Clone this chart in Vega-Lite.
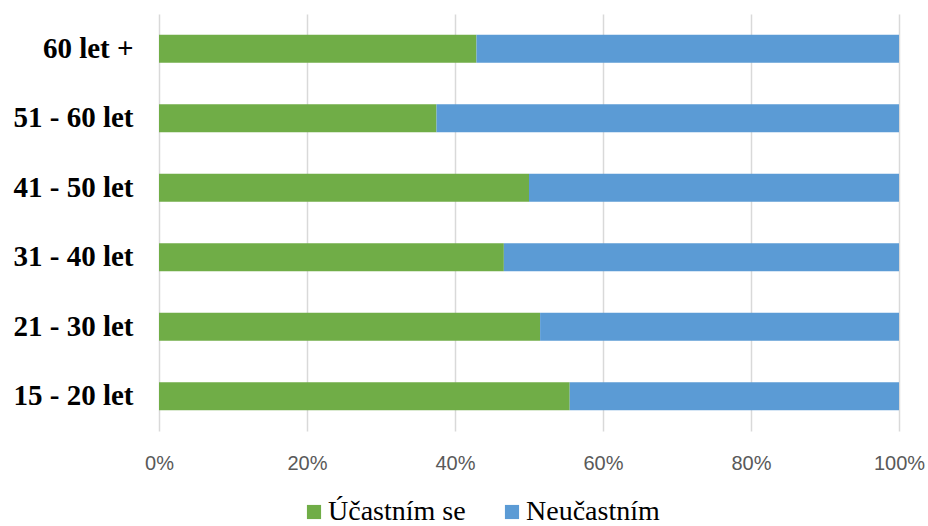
{
  "$schema": "https://vega.github.io/schema/vega-lite/v6.json",
  "width": 740,
  "height": 417,
  "autosize": "none",
  "padding": {"left": 159, "top": 14, "right": 29, "bottom": 95},
  "background": "white",
  "config": {"view": {"stroke": null}},
  "data": {
    "values": [
      {"vek": "60 let +", "odpoved": "Účastním se", "poradi": 1, "podil": 42.9},
      {"vek": "60 let +", "odpoved": "Neučastním", "poradi": 2, "podil": 57.1},
      {"vek": "51 - 60 let", "odpoved": "Účastním se", "poradi": 1, "podil": 37.5},
      {"vek": "51 - 60 let", "odpoved": "Neučastním", "poradi": 2, "podil": 62.5},
      {"vek": "41 - 50 let", "odpoved": "Účastním se", "poradi": 1, "podil": 50.0},
      {"vek": "41 - 50 let", "odpoved": "Neučastním", "poradi": 2, "podil": 50.0},
      {"vek": "31 - 40 let", "odpoved": "Účastním se", "poradi": 1, "podil": 46.6},
      {"vek": "31 - 40 let", "odpoved": "Neučastním", "poradi": 2, "podil": 53.4},
      {"vek": "21 - 30 let", "odpoved": "Účastním se", "poradi": 1, "podil": 51.5},
      {"vek": "21 - 30 let", "odpoved": "Neučastním", "poradi": 2, "podil": 48.5},
      {"vek": "15 - 20 let", "odpoved": "Účastním se", "poradi": 1, "podil": 55.5},
      {"vek": "15 - 20 let", "odpoved": "Neučastním", "poradi": 2, "podil": 44.5}
    ]
  },
  "mark": {"type": "bar"},
  "encoding": {
    "y": {
      "field": "vek",
      "type": "nominal",
      "sort": ["60 let +", "51 - 60 let", "41 - 50 let", "31 - 40 let", "21 - 30 let", "15 - 20 let"],
      "scale": {"paddingInner": 0.6, "paddingOuter": 0.3},
      "axis": {
        "title": null,
        "domain": false,
        "ticks": false,
        "labelFont": "Liberation Serif",
        "labelFontWeight": "bold",
        "labelFontSize": 29,
        "labelColor": "#000000",
        "labelPadding": 26
      }
    },
    "x": {
      "field": "podil",
      "type": "quantitative",
      "stack": "normalize",
      "scale": {"domain": [0, 1], "nice": false},
      "axis": {
        "title": null,
        "format": ".0%",
        "values": [0, 0.2, 0.4, 0.6, 0.8, 1],
        "domain": false,
        "ticks": false,
        "grid": true,
        "gridColor": "#d9d9d9",
        "gridWidth": 1.5,
        "labelFont": "Liberation Sans",
        "labelFontSize": 20,
        "labelColor": "#595959",
        "labelPadding": 22,
        "labelFlush": false
      }
    },
    "color": {
      "field": "odpoved",
      "type": "nominal",
      "sort": ["Účastním se", "Neučastním"],
      "scale": {"domain": ["Účastním se", "Neučastním"], "range": ["#70ad47", "#5b9bd5"]},
      "legend": {
        "title": null,
        "orient": "none",
        "direction": "horizontal",
        "legendX": 141,
        "legendY": 484,
        "symbolType": "square",
        "symbolSize": 200,
        "symbolStrokeWidth": 0,
        "labelFont": "Liberation Serif",
        "labelFontSize": 28,
        "labelColor": "#000000",
        "labelOffset": 0,
        "labelLimit": 0,
        "columnPadding": 32
      }
    },
    "order": {"field": "poradi", "type": "quantitative"}
  }
}
